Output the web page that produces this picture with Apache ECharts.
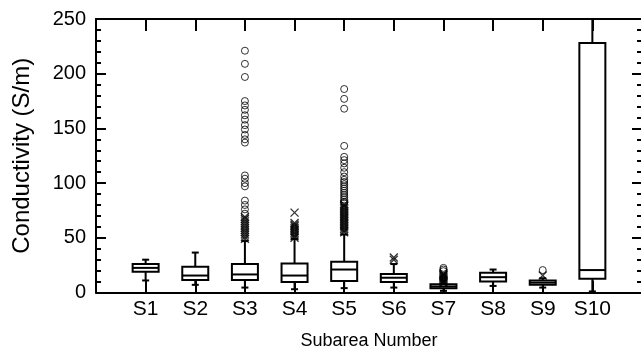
<!DOCTYPE html>
<html style="height: 100%">
<head>
	<meta charset="utf-8">
</head>
<body style="height: 100%; margin: 0">
<div id="container" style="width: 641px; height: 358px"></div>
<script type="text/javascript" src="https://cdn.jsdelivr.net/npm/echarts@6/dist/echarts.min.js"></script>
<script type="text/javascript">
    var dom = document.getElementById("container");
    var myChart = echarts.init(dom);

    var FONT = 'Liberation Sans, Arial, sans-serif';

    // subareas
    var categories = ['S1', 'S2', 'S3', 'S4', 'S5', 'S6', 'S7', 'S8', 'S9', 'S10'];
    // [lower whisker, Q1, median, Q3, upper whisker]
    var boxStats = [
        [11, 19, 22.5, 26, 30],
        [7, 11.5, 15.5, 23.5, 36.5],
        [4.5, 11.5, 16.5, 26, 47],
        [3, 9.5, 15.5, 26.5, 49],
        [4, 10.5, 21, 28, 53],
        [4.5, 9.5, 13.5, 17, 26],
        [1.5, 3.8, 5.5, 7.5, 8],
        [6, 10, 14, 18, 21],
        [4.5, 7, 9, 11, 13],
        [1, 12.5, 20.5, 228, 250]
    ];
    // outliers drawn as crosses (beyond 1.5 IQR)
    var crossOutliers = [
        [],
        [],
        [49, 51, 53, 55, 57, 59, 61, 63, 65, 67, 69],
        [50, 51.5, 53, 54.5, 56, 57.5, 59, 60.5, 62, 63.5, 73],
        [55, 56.5, 58, 59.5, 61, 62.5, 64, 65.5, 67, 68.5, 70, 71.5, 73, 74.5, 76, 77.5, 79, 80.5],
        [30, 32],
        [8.5, 9.5, 10.5, 11.5, 12.5, 13.5, 14.5, 15.5, 16.5, 17.5],
        [],
        [15.5],
        []
    ];
    // outliers drawn as circles (beyond 3 IQR)
    var circleOutliers = [
        [],
        [],
        [221, 209, 197, 175, 171, 167, 162, 158, 153, 149, 144, 140, 137, 107, 104, 100, 97, 84, 80, 76, 72],
        [],
        [186, 177, 168, 134, 124, 121, 118, 114, 110, 106, 103, 101, 99, 97, 95, 93, 91, 89, 87, 85, 83, 82],
        [],
        [19.5, 21, 22.5],
        [],
        [20.5],
        []
    ];
    var yTicks = [0, 50, 100, 150, 200, 250];

    var boxData = boxStats.map(function (s, i) {
        return [i + 1].concat(s);
    });
    var crossData = [];
    var circleData = [];
    crossOutliers.forEach(function (list, i) {
        list.forEach(function (v) { crossData.push([i + 1, v]); });
    });
    circleOutliers.forEach(function (list, i) {
        list.forEach(function (v) { circleData.push([i + 1, v]); });
    });

    function renderBox(params, api) {
        var xi = api.value(0);
        var x = api.coord([xi, 0])[0];
        var y = function (k) { return api.coord([xi, api.value(k)])[1]; };
        var yMin = y(1), yQ1 = y(2), yMed = y(3), yQ3 = y(4), yMax = y(5);
        var hw = 13, cw = 3.5;
        var st = { stroke: '#000', lineWidth: 2, fill: null };
        return {
            type: 'group',
            children: [
                { type: 'line', shape: { x1: x, y1: yQ3, x2: x, y2: yMax }, style: st },
                { type: 'line', shape: { x1: x, y1: yQ1, x2: x, y2: yMin }, style: st },
                { type: 'line', shape: { x1: x - cw, y1: yMax, x2: x + cw, y2: yMax }, style: st },
                { type: 'line', shape: { x1: x - cw, y1: yMin, x2: x + cw, y2: yMin }, style: st },
                { type: 'rect', shape: { x: x - hw, y: yQ3, width: 2 * hw, height: yQ1 - yQ3 }, style: { stroke: '#000', lineWidth: 2, fill: '#fff' } },
                { type: 'line', shape: { x1: x - hw, y1: yMed, x2: x + hw, y2: yMed }, style: st }
            ]
        };
    }

    // onZero off, otherwise the mirrored axes sit on top of the main ones
    var axisLine = { show: true, onZero: false, lineStyle: { color: '#000', width: 2 } };
    var xTick = { show: true, inside: true, length: 12, lineStyle: { color: '#000', width: 2 } };
    var yTick = { show: true, inside: true, length: 10, lineStyle: { color: '#000', width: 2 } };
    var yMinor = { show: true, splitNumber: 5, length: 5, lineStyle: { color: '#000', width: 2 } };

    var option = {
        backgroundColor: '#fff',
        animation: false,
        textStyle: { fontFamily: FONT },
        grid: { left: 96, right: -1, top: 19, bottom: 65.5, outerBoundsMode: 'none' },
        xAxis: [{
            type: 'value',
            position: 'bottom',
            min: 0,
            max: 11,
            interval: 1,
            name: 'Subarea Number',
            nameLocation: 'middle',
            nameGap: 40,
            nameTextStyle: { fontSize: 18, color: '#000', fontFamily: FONT },
            axisLine: axisLine,
            axisTick: xTick,
            axisLabel: {
                fontSize: 21, color: '#000', margin: 6, fontFamily: FONT,
                formatter: function (v) { return categories[v - 1] || ''; }
            },
            splitLine: { show: false }
        }, {
            type: 'value',
            position: 'top',
            min: 0,
            max: 11,
            interval: 1,
            axisLine: axisLine,
            axisTick: xTick,
            axisLabel: { show: false },
            splitLine: { show: false }
        }],
        yAxis: [{
            type: 'value',
            position: 'left',
            min: yTicks[0],
            max: yTicks[yTicks.length - 1],
            interval: 50,
            name: 'Conductivity (S/m)',
            nameLocation: 'middle',
            nameGap: 62,
            nameTextStyle: { fontSize: 24, color: '#000', fontFamily: FONT },
            axisLine: axisLine,
            axisTick: yTick,
            minorTick: yMinor,
            axisLabel: { fontSize: 20, color: '#000', margin: 10, fontFamily: FONT },
            splitLine: { show: false }
        }, {
            type: 'value',
            position: 'right',
            min: yTicks[0],
            max: yTicks[yTicks.length - 1],
            interval: 50,
            axisLine: axisLine,
            axisTick: yTick,
            minorTick: yMinor,
            axisLabel: { show: false },
            splitLine: { show: false }
        }],
        series: [{
            type: 'custom',
            xAxisIndex: 0,
            yAxisIndex: 0,
            renderItem: renderBox,
            encode: { x: 0, y: [1, 2, 3, 4, 5] },
            data: boxData,
            z: 2
        }, {
            type: 'scatter',
            xAxisIndex: 0,
            yAxisIndex: 0,
            symbol: 'path://M0,0L10,10M10,0L0,10',
            symbolSize: 8,
            itemStyle: { color: 'rgba(0,0,0,0)', borderColor: '#000', borderWidth: 1.3 },
            data: crossData,
            z: 3
        }, {
            type: 'scatter',
            xAxisIndex: 0,
            yAxisIndex: 0,
            symbol: 'circle',
            symbolSize: 7,
            itemStyle: { color: 'rgba(0,0,0,0)', borderColor: '#000', borderWidth: 1 },
            data: circleData,
            z: 3
        }]
    };

    if (option && typeof option === "object") {
        myChart.setOption(option, true);
    }
</script>
</body>
</html>
